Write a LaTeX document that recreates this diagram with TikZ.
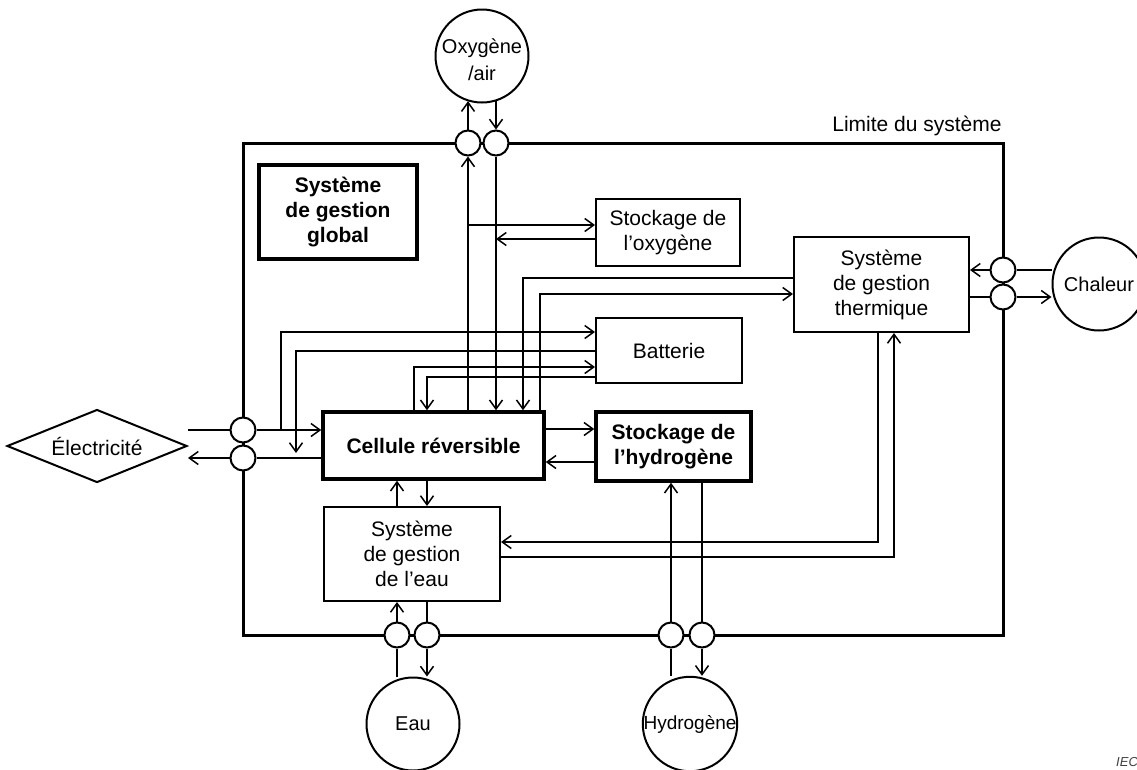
\documentclass[tikz,border=0pt]{standalone}
\usepackage{fontspec}
\setmainfont{Liberation Sans}
\usetikzlibrary{arrows.meta,shapes.geometric}
\pgfdeclarelayer{bg}
\pgfsetlayers{bg,main}
\begin{document}
\begin{tikzpicture}[x=1pt,y=-1pt,
  conn/.style={line width=1.5pt},
  >={Straight Barb[length=9pt,width=13pt]},
  box/.style={draw, line width=2pt, fill=white, inner sep=0pt, align=center, font=\fontsize{21}{25}\selectfont},
  bbox/.style={box, line width=3.5pt, font=\bfseries\fontsize{21}{25}\selectfont},
  port/.style={circle, draw, line width=2pt, fill=white, minimum size=25pt, inner sep=0pt},
  ext/.style={circle, draw, line width=2pt, fill=white, minimum size=93pt, inner sep=0pt, align=center, font=\fontsize{20}{26}\selectfont},
  lbl/.style={font=\fontsize{21}{25}\selectfont, inner sep=0pt}
]
\useasboundingbox (0,0) rectangle (1137,769);

% system boundary
\draw[line width=3pt] (243,143) rectangle (1003,635);
\node[lbl] (lim) at (917,126) {Limite du système};

% boxes
\node[bbox, minimum width=158pt, minimum height=94pt] (glob) at (338,212) {Système\\de gestion\\global};
\node[box, minimum width=144pt, minimum height=67pt] (oxs) at (668,232.5) {Stockage de\\l’oxygène};
\node[box, minimum width=175pt, minimum height=95pt] (therm) at (881.5,284.5) {Système\\de gestion\\thermique};
\node[box, minimum width=146pt, minimum height=65pt] (batt) at (669,350.5) {Batterie};
\node[bbox, minimum width=221pt, minimum height=67pt] (cell) at (433.5,445.5) {Cellule réversible};
\node[bbox, minimum width=155pt, minimum height=69pt] (h2s) at (673.5,446.5) {Stockage de\\l’hydrogène};
\node[box, minimum width=176pt, minimum height=94pt] (water) at (412,554) {Système\\de gestion\\de l’eau};

% external entities
\node[ext, label={[inner sep=0pt, yshift=-4pt, align=center, font=\fontsize{20}{27}\selectfont]center:Oxygène\\/air}] (oxy) at (482,56) {};
\node[ext] (chal) at (1099,284) {Chaleur};
\node[ext] (eau) at (413,724) {Eau};
\node[ext, font=\fontsize{19}{24}\selectfont] (hyd) at (690,724) {Hydrogène};
\node[diamond, draw, line width=2pt, fill=white, aspect=2.5, minimum width=180pt, minimum height=73pt, inner sep=0pt, font=\fontsize{21}{25}\selectfont] (elec) at (97,446) {Électricité};

% ports on the boundary
\node[port] (po1) at (468,143) {};
\node[port] (po2) at (496,143) {};
\node[port] (pe1) at (243,430) {};
\node[port] (pe2) at (243,458) {};
\node[port] (ph1) at (1003,270) {};
\node[port] (ph2) at (1003,297) {};
\node[port] (pw1) at (397,635) {};
\node[port] (pw2) at (427,635) {};
\node[port] (pH1) at (671,635) {};
\node[port] (pH2) at (702,635) {};

\node[anchor=south west, inner sep=0pt, text=black!75, font=\itshape\fontsize{13}{13}\selectfont] (iec) at (1116,767) {IEC};

\begin{pgfonlayer}{bg}
\fill[white] (0,0) rectangle (1137,769);
\begin{scope}[conn]
% oxygen / air
\draw[->] (cell.north -| po1) -- (po1.south);
\draw[->] (po1.north) -- (po1 |- oxy.-108);
\draw[->] (po2 |- oxy.-72) -- (po2.north);
\draw[->] (po2.south) -- (cell.north -| po2);
% oxygen storage
\draw[->] (po1 |- 0,225) -- (oxs.west |- 0,225);
\draw[->] (oxs.west |- 0,239) -- (po2 |- 0,239);
% thermal
\draw[->] (therm.west |- 0,278) -| (cell.north -| 523,0);
\draw[->] (cell.north -| 540,0) |- (therm.west |- 0,294);
% battery
\draw[->] (pe1 -| 281,0) |- (batt.west |- 0,332);
\draw[->] (batt.west |- 0,351) -| (296,453);
\draw[->] (cell.north -| 414,0) |- (batt.west |- 0,367);
\draw[->] (batt.west |- 0,377) -| (cell.north -| 427,0);
% electricity
\draw (elec.east |- pe1) -- (pe1.west);
\draw[->] (pe1.east) -- (cell.west |- pe1);
\draw (cell.west |- pe2) -- (pe2.east);
\draw[->] (pe2.west) -- (elec.east |- pe2);
% hydrogen storage
\draw[->] (cell.east |- 0,429) -- (h2s.west |- 0,429);
\draw[->] (h2s.west |- 0,462) -- (cell.east |- 0,462);
% water management
\draw[->] (water.north -| pw1) -- (cell.south -| pw1);
\draw[->] (cell.south -| pw2) -- (water.north -| pw2);
\draw[->] (pw1.north) -- (water.south -| pw1);
\draw (water.south -| pw2) -- (pw2.north);
\draw (pw1 |- eau.north) -- (pw1.south);
\draw[->] (pw2.south) -- (pw2 |- eau.north);
% hydrogen
\draw[->] (pH1.north) -- (h2s.south -| pH1);
\draw (h2s.south -| pH2) -- (pH2.north);
\draw (pH1 |- hyd.north) -- (pH1.south);
\draw[->] (pH2.south) -- (pH2 |- hyd.north);
% thermal <-> water
\draw[->] (therm.south -| 878,0) |- (water.east |- 0,542);
\draw[->] (water.east |- 0,557) -| (therm.south -| 894,0);
% heat
\draw (chal.west |- ph1) -- (ph1.east);
\draw[->] (ph1.west) -- (therm.east |- ph1);
\draw (therm.east |- ph2) -- (ph2.west);
\draw[->] (ph2.east) -- (chal.west |- ph2);
\end{scope}
\end{pgfonlayer}
\end{tikzpicture}
\end{document}
